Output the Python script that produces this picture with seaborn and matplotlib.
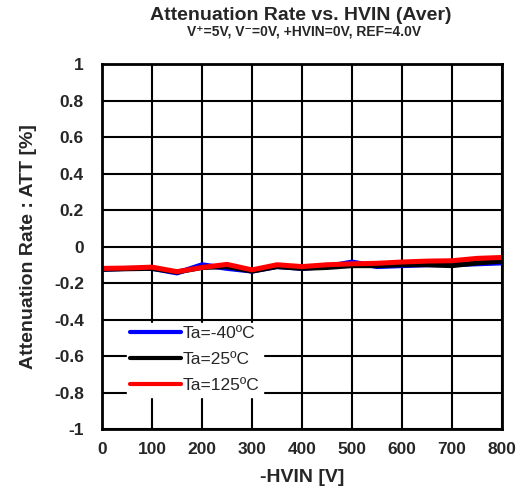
import matplotlib
matplotlib.use("Agg")
import matplotlib.pyplot as plt
import seaborn as sns
import pandas as pd
import numpy as np

hvin = [0, 50, 100, 150, 200, 250, 300, 350, 400, 450, 500, 550, 600, 650, 700, 750, 800]
att_m40 = [-0.125, -0.12, -0.12, -0.145, -0.10, -0.12, -0.135, -0.11, -0.12, -0.11, -0.085, -0.11, -0.105, -0.10, -0.10, -0.095, -0.09]
att_25 = [-0.125, -0.122, -0.12, -0.14, -0.115, -0.11, -0.135, -0.11, -0.12, -0.115, -0.105, -0.105, -0.10, -0.10, -0.105, -0.09, -0.08]
att_125 = [-0.12, -0.118, -0.113, -0.138, -0.115, -0.098, -0.128, -0.10, -0.11, -0.10, -0.095, -0.092, -0.085, -0.08, -0.078, -0.065, -0.06]
series_names = ["Ta=-40ºC", "Ta=25ºC", "Ta=125ºC"]
series_colors = ["#0000FF", "#000000", "#FF0000"]
x_ticks = [0, 100, 200, 300, 400, 500, 600, 700, 800]
y_ticks = [1, 0.8, 0.6, 0.4, 0.2, 0, -0.2, -0.4, -0.6, -0.8, -1]
y_tick_labels = ["1", "0.8", "0.6", "0.4", "0.2", "0", "-0.2", "-0.4", "-0.6", "-0.8", "-1"]

df = pd.concat([
    pd.DataFrame({"HVIN": hvin, "ATT": vals, "Series": name})
    for name, vals in zip(series_names, [att_m40, att_25, att_125])
])

sns.set_style("white")
fam = ["Liberation Sans", "DejaVu Sans"]
plt.rcParams["font.family"] = fam

fig = plt.figure(figsize=(5.23, 4.98), dpi=100)
ax = fig.add_axes([102/523, 1-429/498, 400/523, 365/498])

sns.lineplot(data=df, x="HVIN", y="ATT", hue="Series", palette=series_colors,
             hue_order=series_names, linewidth=3.6, ax=ax, estimator=None, sort=False)

ax.set_xlim(0, 800)
ax.set_ylim(-1, 1)
ax.set_xticks(x_ticks)
ax.set_xticklabels([str(t) for t in x_ticks], fontsize=12.5, fontweight="bold")
ax.set_yticks(y_ticks)
ax.set_yticklabels(y_tick_labels, fontsize=12.5, fontweight="bold")
ax.tick_params(axis="x", length=0, pad=9)
ax.tick_params(axis="y", length=0, pad=13)
ax.grid(True, color="black", linewidth=1.5)
ax.set_axisbelow(True)
for s in ax.spines.values():
    s.set_color("black")
    s.set_linewidth(2)

ax.set_xlabel("-HVIN [V]", fontsize=14, fontweight="bold", labelpad=9)
ax.set_ylabel("Attenuation Rate : ATT [%]", fontsize=14, fontweight="bold", labelpad=12)

fig.text(301/523, 1-15/498, "Attenuation Rate vs. HVIN (Aver)", ha="center", va="center",
         fontsize=14, fontweight="bold")
fig.text(304/523, 1-31/498, "V\u207a=5V, V\u207b=0V, +HVIN=0V, REF=4.0V", ha="center", va="center",
         fontsize=10, fontweight="bold", family=fam)

leg = ax.legend(loc="lower left", bbox_to_anchor=(0.04, 0.065), frameon=True, fontsize=12.5,
                handlelength=2.9, handletextpad=0.15, labelspacing=0.62, borderpad=0.2)
leg.get_frame().set_facecolor("white")
leg.get_frame().set_edgecolor("white")
leg.get_frame().set_alpha(1)
for line in leg.get_lines():
    line.set_linewidth(3)

fig.savefig("out.png", dpi=100, facecolor="white")
